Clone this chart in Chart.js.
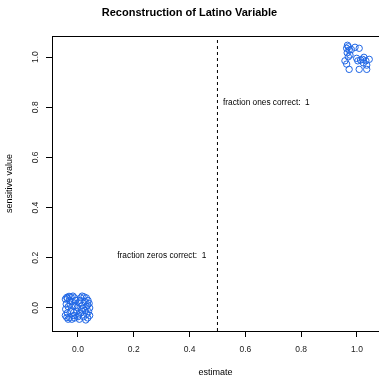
<!DOCTYPE html>
<html>
<head>
<meta charset="utf-8">
<script src="https://cdn.jsdelivr.net/npm/chart.js@4.4.0/dist/chart.umd.min.js"></script>
<style>
  html, body { margin: 0; padding: 0; background: #fff; }
  canvas { display: block; }
</style>
</head>
<body>
<canvas id="chart" width="379" height="376"></canvas>
<script>
// Chart data
const zeroX = [-0.045, -0.040, -0.032, -0.025, -0.018, -0.012, -0.008, -0.030, -0.020, -0.042,
  -0.035, -0.044, -0.038, -0.045, -0.030, -0.022, -0.015, -0.025, -0.010, -0.005,
  -0.012, 0.000, 0.005, 0.010, 0.015, 0.022, 0.030, 0.036, 0.040, 0.025,
  0.015, 0.030, 0.042, 0.038, 0.025, 0.010, 0.020, 0.035, 0.042, 0.005,
  0.028, -0.002, -0.018, 0.008, -0.035, 0.018, -0.028, 0.002, 0.032, -0.038,
  0.012, -0.015, 0.035, -0.040];
const zeroY = [0.035, 0.042, 0.046, 0.044, 0.047, 0.040, 0.030, 0.030, 0.025, 0.015,
  0.005, -0.005, -0.020, -0.030, -0.038, -0.045, -0.030, -0.012, 0.010, -0.015,
  -0.040, -0.035, 0.020, 0.040, 0.047, 0.044, 0.040, 0.030, 0.018, 0.025,
  0.010, 0.005, 0.000, -0.015, -0.010, -0.020, -0.035, -0.040, -0.030, -0.045,
  -0.048, 0.002, 0.008, 0.030, -0.045, -0.002, 0.015, -0.028, -0.025, 0.038,
  -0.008, -0.018, 0.012, -0.038];

const oneX = [0.969, 0.963, 0.972, 0.965, 0.975, 0.969, 0.993, 1.008, 0.957, 0.963,
  0.972, 0.999, 1.003, 1.013, 1.020, 1.025, 1.032, 1.044, 1.023, 1.035,
  1.008, 1.035, 0.966, 0.980];
const oneY = [1.041, 1.035, 1.028, 1.017, 1.008, 1.001, 1.039, 1.035, 0.985, 0.972,
  0.951, 0.995, 0.985, 0.988, 0.991, 0.999, 0.985, 0.991, 0.977, 0.968,
  0.951, 0.951, 1.047, 1.030];

const xTicks = [0, 0.2, 0.4, 0.6, 0.8, 1.0];
const yTicks = [0, 0.2, 0.4, 0.6, 0.8, 1.0];
const cutoff = 0.5;

const notes = [
  { text: 'fraction zeros correct:  1', x: 0.46, y: 0.21, align: 'right' },
  { text: 'fraction ones correct:  1', x: 0.52, y: 0.82, align: 'left' }
];

const xMin = -0.093, xMax = 1.079;
const yMin = -0.092, yMax = 1.084;
const FONT = '"Liberation Sans", Arial, Helvetica, sans-serif';
const pointColor = '#1f66e5';

function toPoints(xs, ys) {
  return xs.map((x, i) => ({ x: x, y: ys[i] }));
}

// Box around the plot area plus text notes
const boxPlugin = {
  id: 'box',
  afterDatasetsDraw(chart) {
    const ctx = chart.ctx;
    const a = chart.chartArea;
    ctx.save();
    ctx.strokeStyle = '#000';
    ctx.lineWidth = 1;
    ctx.strokeRect(a.left + 0.5, a.top + 0.5, a.right - a.left + 2, a.bottom - a.top);
    ctx.fillStyle = '#000';
    ctx.font = '8.3px ' + FONT;
    ctx.textBaseline = 'middle';
    notes.forEach(n => {
      ctx.textAlign = n.align;
      ctx.fillText(n.text, chart.scales.x.getPixelForValue(n.x), chart.scales.y.getPixelForValue(n.y));
    });
    ctx.restore();
  }
};

new Chart(document.getElementById('chart'), {
  type: 'scatter',
  data: {
    datasets: [
      {
        data: toPoints(zeroX, zeroY),
        borderColor: pointColor,
        backgroundColor: 'rgba(0,0,0,0)',
        borderWidth: 1,
        pointRadius: 3.2,
        pointHoverRadius: 3.2
      },
      {
        data: toPoints(oneX, oneY),
        borderColor: pointColor,
        backgroundColor: 'rgba(0,0,0,0)',
        borderWidth: 1,
        pointRadius: 3.2,
        pointHoverRadius: 3.2
      },
      {
        type: 'line',
        data: [{ x: cutoff, y: yMin }, { x: cutoff, y: yMax }],
        borderColor: '#000',
        borderWidth: 1,
        borderDash: [3, 3],
        pointRadius: 0,
        fill: false
      }
    ]
  },
  options: {
    responsive: false,
    animation: false,
    devicePixelRatio: 1,
    layout: { padding: 0, autoPadding: false },
    plugins: {
      legend: { display: false },
      tooltip: { enabled: false },
      title: {
        display: true,
        text: 'Reconstruction of Latino Variable',
        color: '#000',
        font: { family: FONT, size: 11, weight: 'bold' },
        padding: { top: 6, bottom: 16.8 }
      }
    },
    scales: {
      x: {
        type: 'linear',
        min: xMin,
        max: xMax,
        afterBuildTicks: scale => { scale.ticks = xTicks.map(v => ({ value: v })); },
        afterFit: scale => { scale.height = 45; },
        border: { display: false },
        grid: { drawOnChartArea: false, drawTicks: true, tickLength: 6, color: '#000' },
        ticks: {
          color: '#222',
          font: { family: FONT, size: 8.5 },
          padding: 8,
          autoSkip: false,
          maxRotation: 0,
          callback: v => v.toFixed(1)
        },
        title: {
          display: true,
          text: 'estimate',
          color: '#000',
          font: { family: FONT, size: 9, lineHeight: 0.8 },
          padding: { top: 0, bottom: 0 }
        }
      },
      y: {
        type: 'linear',
        min: yMin,
        max: yMax,
        afterBuildTicks: scale => { scale.ticks = yTicks.map(v => ({ value: v })); },
        afterFit: scale => { scale.width = 52; },
        border: { display: false },
        grid: { drawOnChartArea: false, drawTicks: true, tickLength: 6, color: '#000' },
        ticks: {
          color: '#222',
          font: { family: FONT, size: 8.5 },
          padding: 4,
          autoSkip: false,
          minRotation: 90,
          maxRotation: 90,
          crossAlign: 'center',
          callback: v => v.toFixed(1)
        },
        title: {
          display: true,
          text: 'sensitive value',
          color: '#000',
          font: { family: FONT, size: 9 },
          padding: { top: 4, bottom: 0 }
        }
      }
    }
  },
  plugins: [boxPlugin]
});
</script>
</body>
</html>
